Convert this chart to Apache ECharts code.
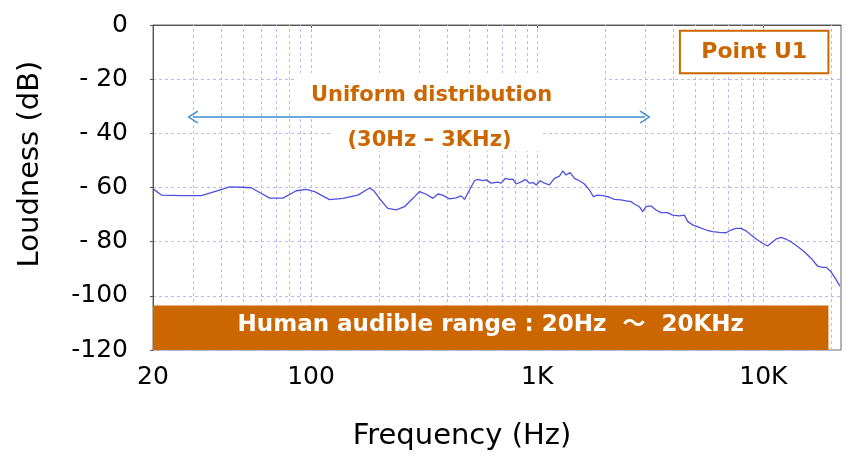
<!DOCTYPE html>
<html>
<head>
<meta charset="utf-8">
<script src="https://cdn.jsdelivr.net/npm/echarts@6/dist/echarts.min.js"></script>
<style>
html, body { margin: 0; padding: 0; background: #fff; }
#main { width: 851px; height: 456px; }
</style>
</head>
<body>
<div id="main"></div>
<script>
// measured spectrum (Hz / dB)
var freqHz = [20, 21.8, 26.7, 32.7, 38.1, 43.6, 49.2, 54.4, 60.3, 65.6,
	75.1, 86, 95.3, 103.7, 120.7, 138.3, 161.1, 181.4, 190, 203,
	218.5, 238, 259, 282, 302, 323, 346, 364, 382, 409,
	438, 461, 477, 502, 528, 546, 575, 595, 626, 669,
	693, 724, 754, 780, 807, 849, 887, 924, 963, 989,
	1030, 1076, 1132, 1192, 1254, 1297, 1342, 1398, 1461, 1537,
	1617, 1701, 1772, 1851, 1982, 2085, 2194, 2349, 2471, 2600,
	2689, 2830, 2927, 3030, 3188, 3354, 3529, 3774, 3971, 4252,
	4474, 4626, 4867, 5210, 5580, 5968, 6388, 6837, 7194, 7568,
	7964, 8379, 8817, 9428, 9920, 10438, 10804, 11369, 11962, 12587,
	13245, 14168, 15168, 16238, 17368, 18275, 19034, 19898, 20939, 21808];
var loudnessDb = [-60.5, -62.8, -63.0, -63.0, -61.3, -59.8, -59.9, -60.1, -62.2, -63.9,
	-63.9, -61.2, -60.7, -61.5, -64.5, -64.0, -62.8, -60.2, -61.3, -64.6,
	-67.7, -68.3, -67.1, -64.0, -61.5, -62.5, -64.0, -62.4, -62.8, -64.2,
	-63.8, -63.1, -64.4, -60.9, -57.5, -57.0, -57.5, -57.2, -58.4, -58.0,
	-58.4, -56.6, -57.0, -56.9, -58.7, -57.9, -57.0, -58.4, -58.2, -59.1,
	-57.5, -58.4, -59.0, -56.6, -55.8, -53.9, -55.4, -54.5, -56.6, -57.5,
	-58.7, -60.9, -63.4, -62.8, -63.1, -63.6, -64.4, -64.6, -64.9, -65.2,
	-66.1, -67.1, -68.9, -67.1, -66.8, -68.3, -69.3, -69.3, -70.2, -70.5,
	-70.2, -72.5, -73.8, -74.7, -75.7, -76.3, -76.6, -76.7, -75.7, -75.1,
	-75.1, -76.0, -77.5, -79.4, -80.6, -81.6, -80.6, -79.1, -78.4, -79.1,
	-80.0, -81.8, -83.7, -86.1, -89.0, -89.5, -89.5, -91.1, -93.9, -96.4];

// log grid lines
var gridFreqs = [30, 40, 50, 60, 70, 80, 90, 100, 200, 300, 400, 500, 600, 700, 800, 900,
	1000, 2000, 3000, 4000, 5000, 6000, 7000, 8000, 9000, 10000, 20000];
var xTickLabels = { 20: '20', 100: '100', 1000: '1K', 10000: '10K' };
var yTickLabels = ['-120', '-100', '- 80', '- 60', '- 40', '- 20', '0'];

var uniformRange = [30, 3000];
var audibleRange = [20, 19400];

var FONT = "'DejaVu Sans', 'Noto Sans CJK JP', sans-serif";
var ORANGE = '#CC6600';
var GRID = '#B8B8FF';

var points = freqHz.map(function (f, i) { return [f, loudnessDb[i]]; });
var chevron = 'path://M50,0 L100,82 L91,90 L50,20 L9,90 L0,82 Z';

var myChart = echarts.init(document.getElementById('main'));
var option = {
	animation: false,
	grid: {
		left: 153, right: 10, top: 25, bottom: 106,
		show: true, borderColor: '#666', borderWidth: 1
	},
	xAxis: {
		type: 'log',
		logBase: 10,
		min: 20,
		max: 22050,
		axisLine: { lineStyle: { color: '#555' } },
		axisTick: { show: true, length: 3, lineStyle: { color: '#555' } },
		axisLabel: {
			margin: 15,
			fontSize: 25,
			fontFamily: FONT,
			color: '#000',
			showMaxLabel: false,
			formatter: function (v) { return xTickLabels[Math.round(v)] || ''; }
		},
		splitLine: { show: false }
	},
	yAxis: {
		type: 'value',
		min: -120,
		max: 0,
		interval: 20,
		axisLine: { show: true, lineStyle: { color: '#555' } },
		axisTick: { show: true, length: 3, lineStyle: { color: '#555' } },
		axisLabel: {
			margin: 25,
			fontSize: 25,
			fontFamily: FONT,
			color: '#000',
			formatter: function (v) { return yTickLabels[Math.round((v + 120) / 20)]; }
		},
		splitLine: { show: true, lineStyle: { color: GRID, type: [3, 3] } }
	},
	graphic: [
		{
			type: 'text', x: 30, y: 164, rotation: Math.PI / 2,
			style: { text: 'Loudness (dB)', fontSize: 29, fontFamily: FONT, fill: '#000',
				align: 'center', verticalAlign: 'middle', textAlign: 'center', textVerticalAlign: 'middle' }
		},
		{
			type: 'text', x: 462, y: 436,
			style: { text: 'Frequency (Hz)', fontSize: 29, fontFamily: FONT, fill: '#000',
				align: 'center', verticalAlign: 'middle', textAlign: 'center', textVerticalAlign: 'middle' }
		}
	],
	series: [
		{
			// vertical log grid
			type: 'line',
			data: [],
			silent: true,
			markLine: {
				z: 1,
				silent: true,
				symbol: 'none',
				label: { show: false },
				lineStyle: { color: GRID, type: [3, 3], width: 1 },
				data: gridFreqs.map(function (f) { return { xAxis: f }; })
			}
		},
		{
			name: 'Point U1',
			type: 'line',
			z: 3,
			data: points,
			showSymbol: false,
			lineStyle: { color: '#5050E0', width: 1.3 },
			markArea: {
				z: 2,
				silent: true,
				label: { show: false },
				data: [
					[{ coord: [86, -17.7], itemStyle: { color: '#fff' } }, { coord: [1982, -34] }],
					[{ coord: [124.5, -34], itemStyle: { color: '#fff' } }, { coord: [1054, -46.5] }],
					[{
						name: 'Point U1', coord: [4276, -2.1],
						itemStyle: { color: '#fff', borderColor: ORANGE, borderWidth: 2 },
						label: { show: true, position: 'inside', color: ORANGE, fontSize: 22, fontWeight: 'bold', fontFamily: FONT }
					}, { coord: [19400, -17.8] }],
					[{
						name: 'Human audible range : ' + audibleRange[0] + 'Hz  ～  20KHz',
						coord: [audibleRange[0], -120],
						itemStyle: { color: ORANGE },
						label: { show: true, position: 'inside', offset: [0, -3], color: '#fff', fontSize: 23, fontWeight: 'bold', fontFamily: FONT }
					}, { coord: [audibleRange[1], -103.6] }]
				]
			},
			markLine: {
				z: 5,
				silent: true,
				symbol: [chevron, chevron],
				symbolSize: [13, 11],
				label: { show: false },
				lineStyle: { color: '#3A8CD0', width: 1.5, type: 'solid' },
				data: [[{ coord: [uniformRange[0], -34] }, { coord: [uniformRange[1], -34] }]]
			},
			markPoint: {
				z: 6,
				silent: true,
				symbol: 'circle',
				symbolSize: 1,
				itemStyle: { color: 'rgba(0,0,0,0)' },
				label: { show: true, position: 'inside', formatter: '{b}', color: ORANGE, fontSize: 21, fontWeight: 'bold', fontFamily: FONT },
				data: [
					{ name: 'Uniform distribution', coord: [341, -26] },
					{ name: '(30Hz – 3KHz)', coord: [334, -42.5] }
				]
			}
		}
	]
};
myChart.setOption(option);
</script>
</body>
</html>
